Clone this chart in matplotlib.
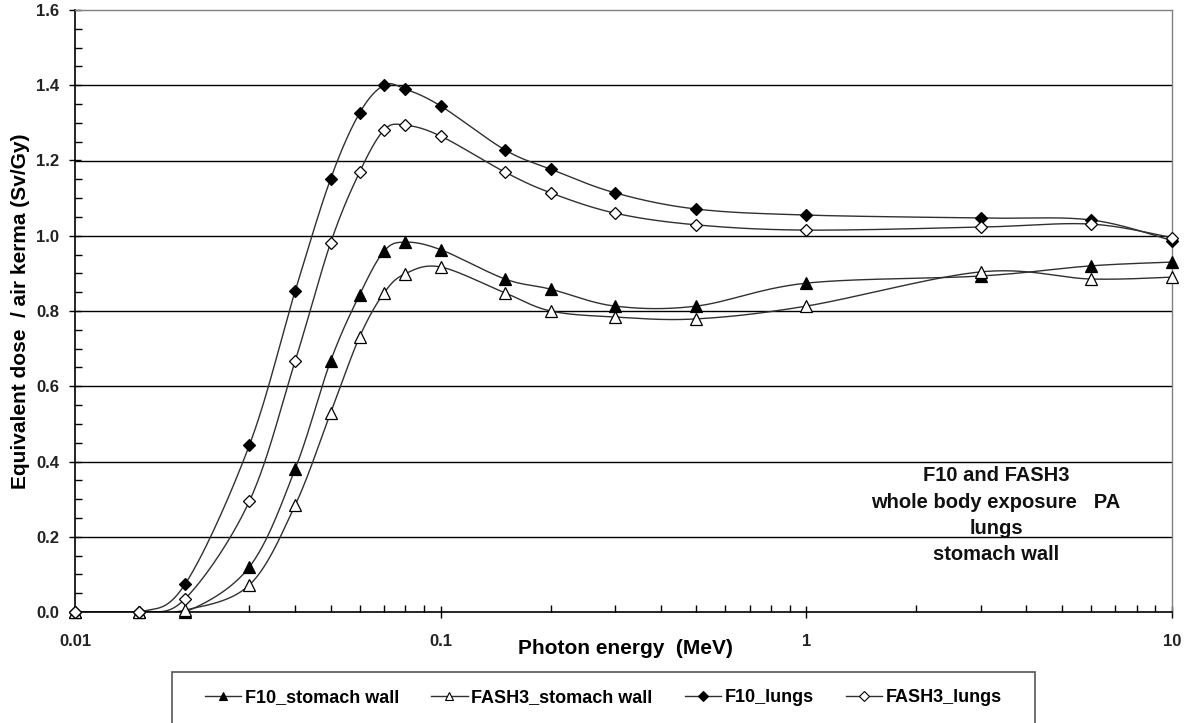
import numpy as np
import matplotlib
matplotlib.use("Agg")
import matplotlib.pyplot as plt
from matplotlib.patches import Rectangle
from matplotlib.ticker import FixedLocator, NullFormatter, MultipleLocator, FormatStrFormatter

plt.rcParams['font.family'] = ['Liberation Sans', 'DejaVu Sans']
plt.rcParams['font.weight'] = 'bold'

energy = [0.01, 0.015, 0.02, 0.03, 0.04, 0.05, 0.06, 0.07, 0.08, 0.1,
          0.15, 0.2, 0.3, 0.5, 1, 3, 6, 10]
f10_stomach = [0.0, 0.0, 0.0, 0.12, 0.38, 0.667, 0.843, 0.959, 0.983, 0.963,
               0.885, 0.858, 0.813, 0.813, 0.874, 0.893, 0.92, 0.93]
fash3_stomach = [0.0, 0.0, 0.005, 0.072, 0.284, 0.529, 0.731, 0.848, 0.899, 0.917,
                 0.848, 0.80, 0.784, 0.779, 0.813, 0.904, 0.885, 0.89]
f10_lungs = [0.0, 0.0, 0.074, 0.444, 0.853, 1.151, 1.326, 1.40, 1.39, 1.345,
             1.228, 1.177, 1.114, 1.071, 1.055, 1.047, 1.042, 0.987]
fash3_lungs = [0.0, 0.0, 0.035, 0.295, 0.667, 0.981, 1.169, 1.281, 1.294, 1.265,
               1.169, 1.114, 1.060, 1.029, 1.015, 1.023, 1.031, 0.995]

labels = ["F10_stomach wall", "FASH3_stomach wall", "F10_lungs", "FASH3_lungs"]
series = [f10_stomach, fash3_stomach, f10_lungs, fash3_lungs]
markers = ['^', '^', 'D', 'D']
faces = ['black', 'white', 'black', 'white']
msizes = [8, 8, 6.5, 6.5]


def smooth(xs, ys, n=30):
    # Excel-style smoothed line: cubic Bezier with Catmull-Rom control points,
    # computed in (approx.) screen proportions (log-x decades vs y units)
    sx, sy = 365.7, 376.0
    P = np.column_stack([np.log10(xs) * sx, np.asarray(ys) * sy])
    out = [P[0]]
    t = np.linspace(0, 1, n)[1:, None]
    for i in range(len(P) - 1):
        p0 = P[i - 1] if i > 0 else P[i]
        p1, p2 = P[i], P[i + 1]
        p3 = P[i + 2] if i + 2 < len(P) else P[i + 1]
        c1 = p1 + (p2 - p0) / 6.0
        c2 = p2 - (p3 - p1) / 6.0
        seg = ((1 - t) ** 3) * p1 + 3 * ((1 - t) ** 2) * t * c1 + 3 * (1 - t) * t ** 2 * c2 + t ** 3 * p2
        out.extend(seg)
    out = np.array(out)
    return 10 ** (out[:, 0] / sx), out[:, 1] / sy


W, H = 1186, 723
fig = plt.figure(figsize=(W / 100, H / 100), dpi=100)
ax = fig.add_axes([75 / W, 1 - 612 / H, (1172 - 75) / W, (612 - 10) / H])

ax.set_xscale('log')
ax.set_xlim(0.01, 10)
ax.set_ylim(0, 1.6)

for yv in np.arange(0.2, 1.6, 0.2):
    ax.axhline(yv, color='black', lw=1.0, zorder=1)

handles = []
for ys, lab, m, fc, ms in zip(series, labels, markers, faces, msizes):
    cx, cy = smooth(energy, ys)
    ax.plot(cx, cy, color='#303030', lw=1.0, zorder=2)
    ax.plot(energy, ys, linestyle='none', marker=m, markersize=ms,
            markerfacecolor=fc, markeredgecolor='black', markeredgewidth=0.9,
            zorder=3, clip_on=False)
    h, = ax.plot([], [], color='#303030', lw=1.0, marker=m, markersize=ms * 0.75,
                 markerfacecolor=fc, markeredgecolor='black', markeredgewidth=0.8)
    handles.append(h)

for s in ['top', 'right']:
    ax.spines[s].set_color('#808080')
    ax.spines[s].set_linewidth(1.0)
for s in ['left', 'bottom']:
    ax.spines[s].set_color('black')
    ax.spines[s].set_linewidth(1.2)

ax.yaxis.set_major_locator(MultipleLocator(0.2))
ax.yaxis.set_minor_locator(MultipleLocator(0.05))
ax.yaxis.set_major_formatter(FormatStrFormatter('%.1f'))
ax.xaxis.set_major_locator(FixedLocator([0.01, 0.1, 1, 10]))
ax.xaxis.set_major_formatter(matplotlib.ticker.FuncFormatter(lambda v, p: f"{v:g}"))
minor = [k * 10.0 ** e for e in (-2, -1, 0) for k in range(2, 10)]
ax.xaxis.set_minor_locator(FixedLocator(minor))
ax.xaxis.set_minor_formatter(NullFormatter())

ax.tick_params(axis='both', which='major', direction='inout', length=9, width=1.0,
               labelsize=12, labelcolor='#222222')
ax.tick_params(axis='both', which='minor', direction='in', length=5, width=1.0)
ax.tick_params(axis='x', which='major', pad=11)
ax.tick_params(axis='y', which='major', pad=7)
for t in ax.get_xticklabels() + ax.get_yticklabels():
    t.set_fontweight('bold')

ax.set_xlabel("Photon energy  (MeV)", fontsize=15, fontweight='bold', va='center')
ax.xaxis.set_label_coords((625 - 75) / 1097, (612 - 649) / 602)
ax.set_ylabel("Equivalent dose  / air kerma (Sv/Gy)", fontsize=15, fontweight='bold', va='center')
ax.yaxis.set_label_coords((21 - 75) / 1097, 0.5)

ax.text((996 - 75) / 1097, (612 - 466) / 602,
        "F10 and FASH3\nwhole body exposure   PA\nlungs\nstomach wall",
        transform=ax.transAxes, ha='center', va='top', fontsize=14.5,
        fontweight='bold', linespacing=1.5, color='#111111', zorder=4)

# legend box (bottom edge cut off as in the original)
fig.patches.append(Rectangle((172 / W, 1 - 740 / H), (1035 - 172) / W, (740 - 672) / H,
                             transform=fig.transFigure, facecolor='white',
                             edgecolor='#555555', lw=1.2))
fig.legend(handles, labels, loc='center', ncol=4,
           bbox_to_anchor=((172 + 1035) / 2 / W, 1 - 698 / H),
           frameon=False, handlelength=2.0, handletextpad=0.2,
           columnspacing=1.8, prop={'weight': 'bold', 'size': 13})

fig.savefig("out.png", dpi=100)
